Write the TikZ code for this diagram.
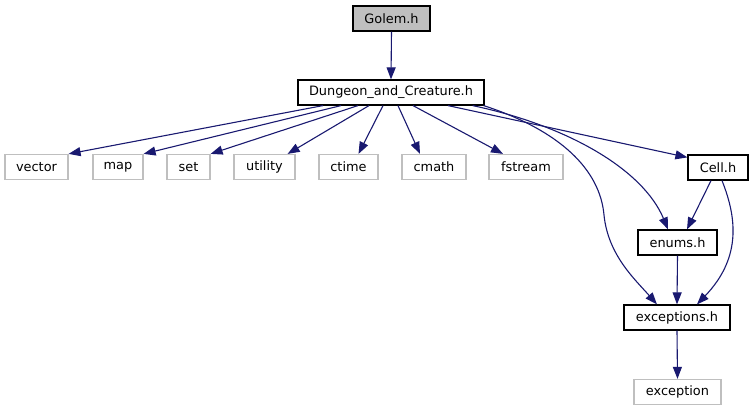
\documentclass[tikz,border=0pt]{standalone}
\usepackage{fontspec}
\setmainfont{DejaVu Sans}
\usetikzlibrary{arrows.meta}
\definecolor{edgeblue}{HTML}{191970}
\definecolor{grey75}{HTML}{BFBFBF}
\begin{document}
\begin{tikzpicture}[x=1pt,y=-1pt,
  box/.style={draw=black,line width=1.2pt,fill=white,minimum height=25pt,inner sep=0pt,
    font=\fontsize{12.9}{15}\selectfont},
  extbox/.style={box,draw=grey75},
  mainbox/.style={box,fill=grey75},
  dep/.style={draw=edgeblue,line width=1.1pt,-{Triangle[length=12pt,width=9pt]},color=edgeblue}]
\useasboundingbox (0,0) rectangle (753,411);
\node[mainbox,minimum width=77pt] (golem) at (391.5,18.5) {Golem.h};
\node[box,minimum width=186pt] (dc) at (391,92.5) {Dungeon\_and\_Creature.h};
\node[extbox,minimum width=63pt] (vector) at (36.5,167) {vector};
\node[extbox,minimum width=50pt] (map) at (118,167) {map};
\node[extbox,minimum width=43pt] (set) at (188.5,167) {set};
\node[extbox,minimum width=61pt] (utility) at (264.5,167) {utility};
\node[extbox,minimum width=59pt] (ctime) at (348.5,167) {ctime};
\node[extbox,minimum width=64pt] (cmath) at (434,167) {cmath};
\node[extbox,minimum width=74pt] (fstream) at (526,167) {fstream};
\node[box,minimum width=60pt] (cell) at (718,167.5) {Cell.h};
\node[box,minimum width=79pt] (enums) at (677.5,242.5) {enums.h};
\node[box,minimum width=106pt] (exc) at (677,317.5) {exceptions.h};
\node[extbox,minimum width=87pt] (exception) at (677.5,392) {exception};

\draw[dep] (golem.south) -- (dc.north);
\draw[dep] ([xshift=-68pt]dc.south) -- (vector.north east);
\draw[dep] ([xshift=-50pt]dc.south) -- (map.north east);
\draw[dep] ([xshift=-33pt]dc.south) -- (set.north east);
\draw[dep] ([xshift=-22pt]dc.south) -- ([xshift=-8pt]utility.north east);
\draw[dep] ([xshift=-8pt]dc.south) -- ([xshift=10pt]ctime.north);
\draw[dep] ([xshift=7pt]dc.south) -- ([xshift=-14pt]cmath.north);
\draw[dep] ([xshift=22pt]dc.south) -- ([xshift=-23pt]fstream.north);
\draw[dep] ([xshift=57pt]dc.south) -- ([yshift=-3pt]cell.north west);
\draw[dep] ([xshift=-12pt]dc.south east) .. controls +(95,20) and +(-25,-60) .. ([xshift=-9.5pt]enums.north);
\draw[dep] ([xshift=-1pt]dc.south east) .. controls +(77,25) and +(-4,-45) .. (604,215)
   .. controls +(4,40) and +(-22,-25) .. ([xshift=-20pt]exc.north);
\draw[dep] ([xshift=-7pt]cell.south) -- ([xshift=9.5pt]enums.north);
\draw[dep] ([xshift=4pt]cell.south) .. controls +(16,40) and +(43,-45) .. ([xshift=20pt]exc.north);
\draw[dep] (enums.south) -- (exc.north);
\draw[dep] (exc.south) -- (exception.north);
\end{tikzpicture}
\end{document}
